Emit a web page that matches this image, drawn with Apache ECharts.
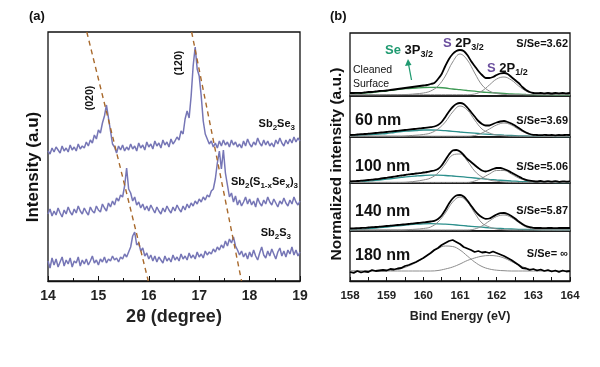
<!DOCTYPE html>
<html><head><meta charset="utf-8">
<script src="https://cdn.jsdelivr.net/npm/echarts@6/dist/echarts.min.js"></script>
<style>html,body{margin:0;padding:0;background:#fff}#c{width:600px;height:367px}</style>
</head><body><div id="c"></div>
<script>
// ---------- Panel (a): XRD ----------
const thetaStart = 14, thetaStep = 0.04, thetaCount = 126;
const xrdTicks = [14, 15, 16, 17, 18, 19];
const sb2se3 = [130,127,133,129,134,131,128,135,130,133,129,136,131,134,130,137,132,135,133,139,135,141,138,146,142,151,148,158,165,176,163,150,137,134,128,135,131,136,130,134,131,137,132,135,130,138,133,136,131,139,134,137,132,140,135,138,133,141,136,139,134,142,137,140,144,141,150,147,162,170,163,185,215,234,212,205,185,160,147,142,137,140,134,138,133,140,135,141,136,139,134,141,136,139,134,137,133,140,135,142,137,134,139,136,143,138,135,141,136,140,135,138,134,141,137,143,138,135,141,137,142,138,144,139,143,140];
const sb2sse3 = [67,72,65,70,66,73,68,64,71,67,74,69,66,72,68,75,70,67,73,69,66,74,70,68,75,71,69,77,73,70,78,74,80,76,83,80,86,84,95,113,92,88,80,84,76,79,73,77,71,75,70,76,72,68,74,70,67,73,69,75,71,68,74,70,76,72,69,75,71,77,73,78,75,80,77,82,79,84,81,86,84,90,92,102,118,130,112,131,108,96,84,88,79,85,76,81,75,79,84,77,82,76,80,74,83,78,75,81,77,84,79,76,82,78,74,80,77,83,78,75,81,77,84,79,76,80];
const sb2s3 = [20,13,23,16,22,14,19,24,15,21,17,23,14,20,18,24,15,21,17,22,16,20,25,18,21,16,22,19,24,18,22,20,25,21,23,19,24,22,27,24,29,34,45,49,36,38,30,33,25,28,22,26,20,25,19,24,21,18,25,20,23,19,26,21,24,20,27,22,25,21,28,23,26,22,29,24,27,23,30,26,29,27,32,29,34,31,36,33,40,35,42,38,44,35,31,26,30,24,28,22,29,24,31,25,21,28,34,26,23,30,25,32,27,22,29,33,25,30,24,31,27,34,26,31,25,29];
const guide020 = [[14.77, 249], [15.99, 0]];
const guide120 = [[16.85, 249], [17.84, 0]];

// ---------- Panel (b): XPS ----------
const eStart = 158, eEnd = 164;
const black = [
 [3,3,3.2,3,3.5,4,4,4.5,5,5.2,5.5,6,6.5,7,7.5,8,8.5,9,9.5,10,10.5,11,12,13,17,22,30,37,42,45,46,45,41,35,30,25,21,18,18,19,21,22.5,23,22,19,16,13,9,6,4,3,2.8,3,2.6,3,2.5,3,2.7,3,2.6,3],
 [2,2.2,2.5,2.8,3,3.3,3.6,4,4.3,4.7,5,5.4,5.8,6.2,6.6,7,7.4,7.8,8.2,8.6,9,9.3,9.8,10.5,12,15,20,25.5,30,33,34,33,29.5,25,20.5,16,13,11.5,11.5,13,14.5,15.5,16,15,13.5,11.5,9,6.5,4.5,3,2.2,2,1.8,2.1,1.9,2,1.7,2,1.9,2.1,2],
 [1.5,1.8,2,2.3,2.6,3,3.3,3.8,4.2,4.8,5.2,5.8,6.3,7,7.5,8,8.6,9,9.5,9.8,10.5,11,11.8,12.5,14,17.5,23,28.5,32.5,33,31.5,28,24,21,18,15,12.5,11.5,12.5,14,15,15,14,12.5,10.5,8.5,6.5,4.5,3.2,2.3,1.8,1.5,2,1.3,1.8,1.4,1.9,1.2,1.7,1.4,1.6],
 [2.5,2.6,2.8,3,3.2,3.5,3.8,4,4.3,4.6,5,5.3,5.6,6,6.3,6.7,7,7.4,7.8,8.2,8.6,9,9.5,10.2,12,15.5,21,27.5,32.5,35.5,36,34.5,30.5,25.5,20.5,16.5,13.8,12.2,12.5,14.5,16.5,17.8,18,17,15,12.5,9.5,7,5,3.8,3.2,3,3,2.9,3,3,2.9,3,3,3,3],
 [9,8,10,8.5,9.5,9,11,10,10.5,11,10.5,12,11.5,12.5,13,15,16,17.5,19,21,23,25.5,28,31,33,36,38,40,41,39,37,34,32.5,31,29,30,28.5,29,28,29.5,28,26.5,25,23,21,18.5,16,13,12.5,11,12,10.5,11.5,10,11,9.5,10.5,9,10.5,9.5,10]
];
const seComp = [
 [2,2.5,3,3.5,4.5,5,6,7,7.5,8,8.5,8.7,8.5,8,7,6.3,5.5,4.8,4,3.5,3,2.5,2,1.8,1.5,1.3,1.2,1.1,1,1,1],
 [1,1.5,2,2.5,3,3.5,4.5,5.5,6,6.5,7,7,6.8,6.3,5.7,5,4.4,3.8,3.2,2.7,2.2,1.8,1.5,1.2,1,0.8,0.7,0.6,0.5,0.5,0.5],
 [0.5,1,1.5,2.2,3,3.8,4.7,5.6,6.4,7,7.5,7.8,7.8,7.5,7,6.4,5.7,5,4.3,3.6,3,2.5,2,1.6,1.3,1,0.8,0.6,0.5,0.4,0.4],
 [1,1.5,2,2.6,3.3,4,4.8,5.5,6.2,6.8,7.2,7.3,7.2,6.8,6.3,5.7,5,4.4,3.8,3.2,2.7,2.3,2,1.7,1.5,1.3,1.2,1.1,1,1,1],
 null
];
const s3Comp = [
 [1.2,1.2,1.2,1.2,1.2,1.3,1.3,1.4,1.6,2.2,3,5,10,20,34,42,36,23,11,5,2.5,1.6,1.3,1.3,1.3,1.3,1.3,1.3,1.3,1.3,1.3],
 [0.8,0.8,0.8,0.8,0.8,0.8,0.8,0.8,1.3,1.8,2.5,4,8,15,25,31,27,17,8,4,2,1.2,0.8,0.8,0.8,0.8,0.8,0.8,0.8,0.8,0.8],
 [0.6,0.6,0.6,0.6,0.6,0.6,0.6,0.6,1,1.8,3,5,10,19,28,29,22,12,6,3,1.8,1,0.6,0.6,0.6,0.6,0.6,0.6,0.6,0.6,0.6],
 [1,1,1,1,1,1,1,1,1.4,1.8,2.5,4,9,18,29,34,29,18,8,4,2,1.3,1,1,1,1,1,1,1,1,1],
 [10,10,10,10,10,10.3,11,12.5,15,18.5,23,28,32.5,35,34.5,31,25,19,14.5,12,10.8,10.3,10,10,10,10,10,10,10,10,10]
];
const s1Comp = [
 [1.3,1.3,1.3,1.3,1.3,1.3,1.3,1.3,1.3,1.3,1.3,1.3,1.3,1.3,1.3,1.3,1.3,2,5,11,17,19,16,10,5,2.5,1.5,1.3,1.3,1.3,1.3],
 [0.8,0.8,0.8,0.8,0.8,0.8,0.8,0.8,0.8,0.8,0.8,0.8,0.8,0.8,0.8,0.8,0.8,1.5,4,8,12,14,12,7.5,4,2,1.1,0.8,0.8,0.8,0.8],
 [0.6,0.6,0.6,0.6,0.6,0.6,0.6,0.6,0.6,0.6,0.6,0.6,0.6,0.6,0.6,0.6,0.6,2,5,9,12.5,12.5,9,5,2.5,1.3,0.8,0.6,0.6,0.6,0.6],
 [1,1,1,1,1,1,1,1,1,1,1,1,1,1,1,1,1,2,5,10,14.5,16,13.5,8.5,4,2,1.2,1,1,1,1],
 [10,10,10,10,10,10,10,10,10,10,10,10,10.5,12,14,17,20.5,23,24.8,25.5,25,23,19.5,16,13,11.5,10.7,10.3,10,10,10]
];
const sampleLabels = ['', '60 nm', '100 nm', '140 nm', '180 nm'];
const ratioLabels = ['S/Se=3.62', 'S/Se=3.69', 'S/Se=5.06', 'S/Se=5.87', 'S/Se= ∞'];
const xpsTicks = [158, 159, 160, 161, 162, 163, 164];

// ---------- layout ----------
const F = '"Liberation Sans", Arial, sans-serif';
const subTops = [33, 96, 137, 183, 231];
const subHeights = [63, 41, 46, 48, 50];
const seColors = ['#3f9a55', '#2c8f8c', '#2c8f8c', '#2c8f8c', null];

const theta = [];
for (let i = 0; i < thetaCount; i++) theta.push(+(thetaStart + thetaStep * i).toFixed(2));
const e1 = [], e2 = [];
for (let i = 0; i <= 60; i++) e1.push(+(eStart + 0.1 * i).toFixed(1));
for (let i = 0; i <= 30; i++) e2.push(+(eStart + 0.2 * i).toFixed(1));
const pair = (xs, ys) => xs.map((x, i) => [x, ys[i]]);

const grids = [{left: 48, top: 32, width: 252, height: 249, show: true, borderColor: '#111', borderWidth: 1.3}];
const xAxes = [{
  gridIndex: 0, type: 'value', min: xrdTicks[0], max: xrdTicks[xrdTicks.length - 1], interval: 1,
  axisLine: {show: true, lineStyle: {color: '#111', width: 1.3}},
  axisTick: {inside: true, length: 5, lineStyle: {color: '#111'}},
  minorTick: {show: true, splitNumber: 2, length: 3, lineStyle: {color: '#111'}},
  splitLine: {show: false},
  axisLabel: {fontSize: 14, fontWeight: 'bold', color: '#222', fontFamily: F, margin: 8},
  name: '2θ (degree)', nameLocation: 'middle', nameGap: 27,
  nameTextStyle: {fontSize: 18, fontWeight: 'bold', color: '#222', fontFamily: F}
}];
const yAxes = [{gridIndex: 0, type: 'value', min: 0, max: 249, show: false}];
const series = [];
[sb2se3, sb2sse3, sb2s3].forEach(d => series.push({
  type: 'line', xAxisIndex: 0, yAxisIndex: 0, data: pair(theta, d), showSymbol: false,
  lineStyle: {color: '#7676b6', width: 1.5}, silent: true
}));
[guide020, guide120].forEach(d => series.push({
  type: 'line', xAxisIndex: 0, yAxisIndex: 0, data: d, showSymbol: false,
  lineStyle: {color: '#a8692c', width: 1.4, type: [5, 4]}, silent: true
}));

for (let p = 0; p < 5; p++) {
  const gi = p + 1;
  grids.push({left: 350, top: subTops[p], width: 220, height: subHeights[p], show: true, borderColor: '#111', borderWidth: 1.3});
  const last = p === 4;
  xAxes.push({
    gridIndex: gi, type: 'value', min: xpsTicks[0], max: xpsTicks[xpsTicks.length - 1], interval: 1,
    axisLine: {show: last, lineStyle: {color: '#111', width: 1.3}},
    axisTick: {show: last, inside: true, length: 4, lineStyle: {color: '#111'}},
    minorTick: {show: last, splitNumber: 2, length: 4, lineStyle: {color: '#111'}},
    splitLine: {show: false},
    axisLabel: {show: last, fontSize: 11.5, color: '#222', fontWeight: 'bold', fontFamily: F, margin: 9},
    name: last ? 'Bind Energy (eV)' : '', nameLocation: 'middle', nameGap: 29,
    nameTextStyle: {fontSize: 12.5, fontWeight: 'bold', color: '#222', fontFamily: F}
  });
  yAxes.push({gridIndex: gi, type: 'value', min: 0, max: subHeights[p], show: false});
  if (seComp[p]) series.push({type: 'line', xAxisIndex: gi, yAxisIndex: gi, data: pair(e2, seComp[p]), showSymbol: false, smooth: 0.4,
    lineStyle: {color: seColors[p], width: 1.3}, silent: true});
  series.push({type: 'line', xAxisIndex: gi, yAxisIndex: gi, data: pair(e2, s3Comp[p]), showSymbol: false, smooth: 0.4,
    lineStyle: {color: '#8c8c8c', width: 1}, silent: true});
  series.push({type: 'line', xAxisIndex: gi, yAxisIndex: gi, data: pair(e2, s1Comp[p]), showSymbol: false, smooth: 0.4,
    lineStyle: {color: '#8c8c8c', width: 1}, silent: true});
  series.push({type: 'line', xAxisIndex: gi, yAxisIndex: gi, data: pair(e1, black[p]), showSymbol: false, smooth: p === 4 ? false : 0.3,
    lineStyle: {color: '#000', width: 1.8}, silent: true});
}

const txt = (x, y, text, o) => Object.assign({type: 'text', x: x, y: y, silent: true, z: 100,
  style: Object.assign({text: text, fontFamily: F, fontWeight: 'bold', fontSize: 11, fill: '#111', align: 'left', verticalAlign: 'middle'}, (o && o.style) || {})},
  o && o.rotation ? {rotation: o.rotation} : {});
const rich = (x, y, text, r, align) => ({type: 'text', x: x, y: y, silent: true, z: 100,
  style: {text: text, rich: r, align: align || 'left', verticalAlign: 'middle', fontFamily: F}});
const subRich = (size, sub, color) => ({
  b: {fontSize: size, fontWeight: 'bold', fontFamily: F, fill: color || '#111', lineHeight: size + 5},
  s: {fontSize: sub, fontWeight: 'bold', fontFamily: F, fill: color || '#111', lineHeight: size + 5, verticalAlign: 'bottom'},
  g: {fontSize: size, fontWeight: 'bold', fontFamily: F, fill: '#1f9a70', lineHeight: size + 5},
  p: {fontSize: size, fontWeight: 'bold', fontFamily: F, fill: '#6b4f9e', lineHeight: size + 5}
});

const graphics = [
  txt(29, 16, '(a)', {style: {fontSize: 13}}),
  txt(330, 16, '(b)', {style: {fontSize: 13}}),
  txt(33, 167, 'Intensity (a.u)', {rotation: Math.PI / 2, style: {fontSize: 17, align: 'center'}}),
  txt(337, 164, 'Normalized intensity (a.u.)', {rotation: Math.PI / 2, style: {fontSize: 15.5, align: 'center'}}),
  txt(90.5, 98, '(020)', {rotation: Math.PI / 2, style: {fontSize: 10.5, align: 'center'}}),
  txt(179.5, 63, '(120)', {rotation: Math.PI / 2, style: {fontSize: 10.5, align: 'center'}}),
  rich(295, 124, '{b|Sb}{s|2}{b|Se}{s|3}', subRich(11, 8), 'right'),
  rich(298, 182, '{b|Sb}{s|2}{b|(S}{s|1-x}{b|Se}{s|x}{b|)}{s|3}', subRich(11, 8), 'right'),
  rich(291, 233, '{b|Sb}{s|2}{b|S}{s|3}', subRich(11, 8), 'right'),
  rich(385, 50, '{g|Se }{b|3P}{s|3/2}', subRich(13, 9)),
  rich(443, 43, '{p|S }{b|2P}{s|3/2}', subRich(13, 9)),
  rich(487, 68, '{p|S }{b|2P}{s|1/2}', subRich(13, 9)),
  txt(353, 70, 'Cleaned', {style: {fontSize: 10.5, fontWeight: 'normal', fill: '#111'}}),
  txt(353, 84, 'Surface', {style: {fontSize: 10.5, fontWeight: 'normal', fill: '#111'}}),
  {type: 'line', silent: true, z: 100, shape: {x1: 411.5, y1: 80, x2: 408.5, y2: 64}, style: {stroke: '#1f9a70', lineWidth: 1.3}},
  {type: 'polygon', silent: true, z: 100, shape: {points: [[408, 59], [405, 66], [411.5, 65]]}, style: {fill: '#1f9a70'}}
];
const labelYs = [0, 121, 166.5, 211.5, 256];
const ratioYs = [43.5, 121, 166.5, 211, 253.5];
for (let p = 0; p < 5; p++) {
  if (sampleLabels[p]) graphics.push(txt(355, labelYs[p], sampleLabels[p], {style: {fontSize: 16}}));
  graphics.push(txt(568, ratioYs[p], ratioLabels[p], {style: {fontSize: 11, align: 'right'}}));
}

const chart = echarts.init(document.getElementById('c'), null, {renderer: 'canvas'});
chart.setOption({animation: false, backgroundColor: '#fff', grid: grids, xAxis: xAxes, yAxis: yAxes, series: series, graphic: graphics});
</script></body></html>
